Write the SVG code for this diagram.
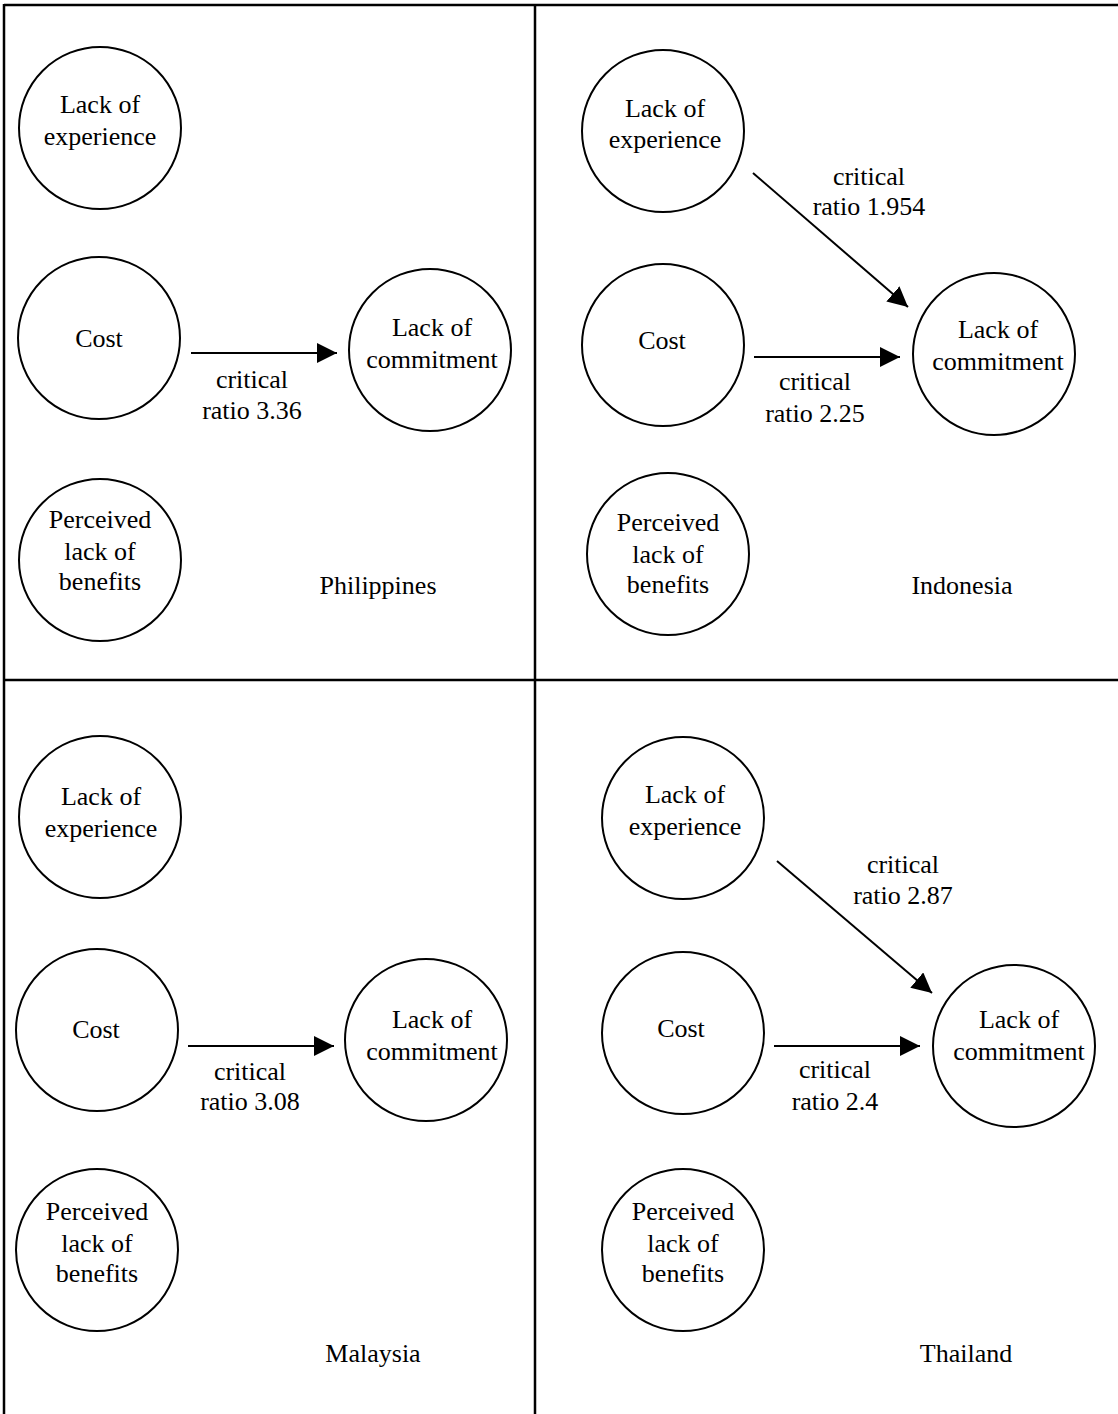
<svg xmlns="http://www.w3.org/2000/svg" width="1118" height="1414" viewBox="0 0 1118 1414">
  <style>
    .node circle { fill: #fff; stroke: #000; stroke-width: 2; }
    text { font-family: "Liberation Serif", "Times New Roman", serif; font-size: 26px; fill: #000; text-anchor: middle; }
    .frame { stroke: #000; stroke-width: 2.5; fill: none; }
    .edge { stroke: #000; stroke-width: 2; fill: none; marker-end: url(#arrow); }
  </style>
  <defs>
    <marker id="arrow" markerUnits="userSpaceOnUse" markerWidth="22" markerHeight="20" refX="20" refY="10" orient="auto">
      <path d="M0,0 L20,10 L0,20 Z" fill="#000"/>
    </marker>
  </defs>
  <rect width="1118" height="1414" fill="#fff"/>

  <!-- panel frame -->
  <g id="frame">
    <line class="frame" x1="4" y1="5" x2="1118" y2="5"/>
    <line class="frame" x1="4" y1="4" x2="4" y2="1414"/>
    <line class="frame" x1="535" y1="5" x2="535" y2="1414"/>
    <line class="frame" x1="4" y1="680" x2="1118" y2="680"/>
  </g>

  <!-- Philippines -->
  <g id="ph-experience" class="node"><circle cx="100" cy="128" r="81"/><text x="100" y="113">Lack of</text><text x="100" y="145">experience</text></g>
  <g id="ph-cost" class="node"><circle cx="99" cy="338" r="81"/><text x="99" y="347">Cost</text></g>
  <g id="ph-commitment" class="node"><circle cx="430" cy="350" r="81"/><text x="432" y="336">Lack of</text><text x="432" y="368">commitment</text></g>
  <g id="ph-benefits" class="node"><circle cx="100" cy="560" r="81"/><text x="100" y="528">Perceived</text><text x="100" y="560">lack of</text><text x="100" y="590">benefits</text></g>
  <g id="ph-label"><text x="378" y="594">Philippines</text></g>

  <!-- Indonesia -->
  <g id="id-experience" class="node"><circle cx="663" cy="131" r="81"/><text x="665" y="117">Lack of</text><text x="665" y="148">experience</text></g>
  <g id="id-cost" class="node"><circle cx="663" cy="345" r="81"/><text x="662" y="349">Cost</text></g>
  <g id="id-commitment" class="node"><circle cx="994" cy="354" r="81"/><text x="998" y="338">Lack of</text><text x="998" y="370">commitment</text></g>
  <g id="id-benefits" class="node"><circle cx="668" cy="554" r="81"/><text x="668" y="531">Perceived</text><text x="668" y="563">lack of</text><text x="668" y="593">benefits</text></g>
  <g id="id-label"><text x="962" y="594">Indonesia</text></g>

  <!-- Malaysia -->
  <g id="my-experience" class="node"><circle cx="100" cy="817" r="81"/><text x="101" y="805">Lack of</text><text x="101" y="837">experience</text></g>
  <g id="my-cost" class="node"><circle cx="97" cy="1030" r="81"/><text x="96" y="1038">Cost</text></g>
  <g id="my-commitment" class="node"><circle cx="426" cy="1040" r="81"/><text x="432" y="1028">Lack of</text><text x="432" y="1060">commitment</text></g>
  <g id="my-benefits" class="node"><circle cx="97" cy="1250" r="81"/><text x="97" y="1220">Perceived</text><text x="97" y="1252">lack of</text><text x="97" y="1282">benefits</text></g>
  <g id="my-label"><text x="373" y="1362">Malaysia</text></g>

  <!-- Thailand -->
  <g id="th-experience" class="node"><circle cx="683" cy="818" r="81"/><text x="685" y="803">Lack of</text><text x="685" y="835">experience</text></g>
  <g id="th-cost" class="node"><circle cx="683" cy="1033" r="81"/><text x="681" y="1037">Cost</text></g>
  <g id="th-commitment" class="node"><circle cx="1014" cy="1046" r="81"/><text x="1019" y="1028">Lack of</text><text x="1019" y="1060">commitment</text></g>
  <g id="th-benefits" class="node"><circle cx="683" cy="1250" r="81"/><text x="683" y="1220">Perceived</text><text x="683" y="1252">lack of</text><text x="683" y="1282">benefits</text></g>
  <g id="th-label"><text x="966" y="1362">Thailand</text></g>

  <!-- connectors -->
  <g id="connectors">
    <line class="edge" x1="191" y1="353" x2="337" y2="353"/>
    <line class="edge" x1="754" y1="357" x2="900" y2="357"/>
    <line class="edge" x1="753" y1="173" x2="908" y2="307"/>
    <line class="edge" x1="188" y1="1046" x2="334" y2="1046"/>
    <line class="edge" x1="774" y1="1046" x2="920" y2="1046"/>
    <line class="edge" x1="777" y1="861" x2="932" y2="993"/>
  </g>

  <!-- connector labels -->
  <g id="edge-labels">
    <text x="252" y="388">critical</text><text x="252" y="419">ratio 3.36</text>
    <text x="815" y="390">critical</text><text x="815" y="422">ratio 2.25</text>
    <text x="869" y="185">critical</text><text x="869" y="215">ratio 1.954</text>
    <text x="250" y="1080">critical</text><text x="250" y="1110">ratio 3.08</text>
    <text x="835" y="1078">critical</text><text x="835" y="1110">ratio 2.4</text>
    <text x="903" y="873">critical</text><text x="903" y="904">ratio 2.87</text>
  </g>
</svg>
